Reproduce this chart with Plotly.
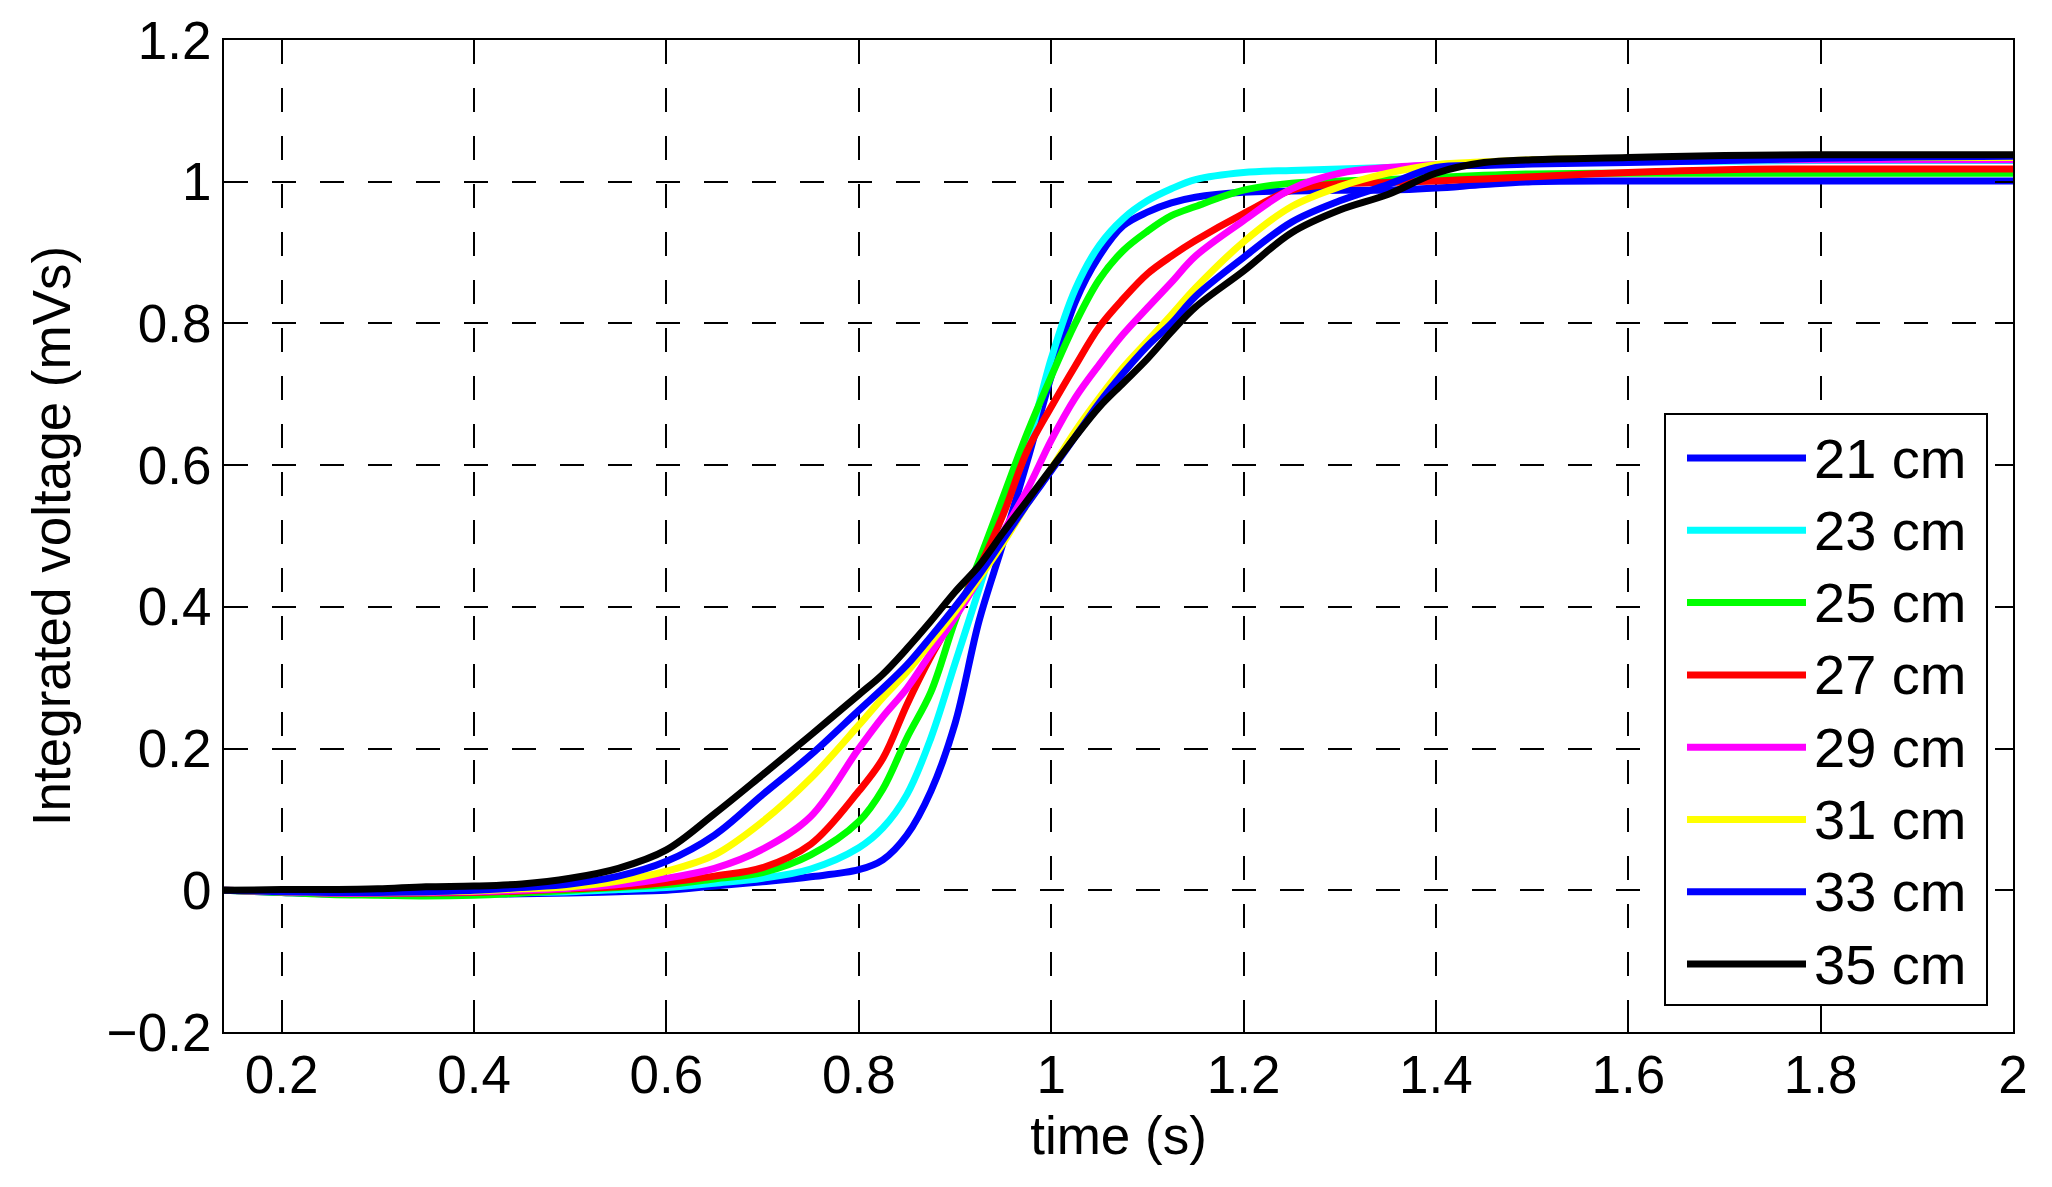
import plotly.graph_objects as go

# ---------------- data ----------------
time_s = [0.14, 0.2, 0.25, 0.3, 0.35, 0.4, 0.45, 0.5, 0.55, 0.6, 0.65, 0.7, 0.75, 0.8,
          0.825, 0.85, 0.875, 0.9, 0.925, 0.95, 0.975, 1.0, 1.025, 1.05, 1.075, 1.1,
          1.125, 1.15, 1.2, 1.25, 1.3, 1.35, 1.4, 1.45, 1.5, 1.6, 1.7, 1.8, 1.9, 2.0]

v21 = [0.000, -0.003, -0.005, -0.005, -0.005, -0.005, -0.005, -0.004, -0.002, 0.000,
       0.006, 0.012, 0.019, 0.029, 0.043, 0.078, 0.140, 0.235, 0.380, 0.490, 0.605,
       0.725, 0.830, 0.895, 0.938, 0.957, 0.970, 0.978, 0.985, 0.987, 0.988, 0.988,
       0.991, 0.996, 1.000, 1.001, 1.001, 1.001, 1.001, 1.001]
v23 = [0.000, -0.002, -0.004, -0.004, -0.004, -0.004, -0.003, -0.002, 0.001, 0.004,
       0.010, 0.017, 0.030, 0.060, 0.088, 0.135, 0.215, 0.320, 0.425, 0.535, 0.625,
       0.750, 0.848, 0.910, 0.948, 0.973, 0.990, 1.003, 1.013, 1.016, 1.018, 1.020,
       1.022, 1.025, 1.027, 1.028, 1.029, 1.030, 1.030, 1.030]
v25 = [0.000, -0.003, -0.006, -0.007, -0.008, -0.007, -0.004, 0.000, 0.004, 0.008,
       0.016, 0.025, 0.050, 0.097, 0.143, 0.215, 0.280, 0.380, 0.465, 0.555, 0.645,
       0.725, 0.800, 0.862, 0.903, 0.930, 0.952, 0.965, 0.988, 0.998, 1.001, 1.003,
       1.006, 1.009, 1.011, 1.012, 1.012, 1.012, 1.012, 1.012]
v27 = [0.000, -0.002, -0.004, -0.004, -0.004, -0.003, -0.001, 0.002, 0.005, 0.011,
       0.020, 0.032, 0.065, 0.140, 0.186, 0.262, 0.330, 0.390, 0.455, 0.530, 0.620,
       0.682, 0.740, 0.795, 0.835, 0.870, 0.895, 0.917, 0.955, 0.988, 0.997, 0.999,
       1.001, 1.004, 1.007, 1.013, 1.017, 1.018, 1.018, 1.018]
v29 = [0.000, -0.002, -0.004, -0.004, -0.003, -0.002, 0.000, 0.003, 0.008, 0.017,
       0.031, 0.058, 0.104, 0.200, 0.245, 0.285, 0.335, 0.385, 0.440, 0.505, 0.565,
       0.635, 0.695, 0.742, 0.785, 0.822, 0.858, 0.895, 0.945, 0.990, 1.012, 1.020,
       1.024, 1.026, 1.028, 1.030, 1.031, 1.031, 1.031, 1.031]
v31 = [0.000, -0.002, -0.003, -0.003, -0.002, -0.001, 0.002, 0.005, 0.013, 0.027,
       0.050, 0.097, 0.158, 0.233, 0.272, 0.308, 0.350, 0.393, 0.440, 0.490, 0.545,
       0.595, 0.648, 0.695, 0.738, 0.775, 0.812, 0.850, 0.915, 0.965, 0.993, 1.012,
       1.024, 1.028, 1.031, 1.033, 1.034, 1.034, 1.034, 1.034]
v33 = [0.000, -0.002, -0.003, -0.003, -0.002, 0.000, 0.004, 0.009, 0.020, 0.041,
       0.078, 0.135, 0.191, 0.254, 0.285, 0.318, 0.358, 0.400, 0.445, 0.495, 0.545,
       0.592, 0.640, 0.688, 0.730, 0.768, 0.800, 0.838, 0.893, 0.943, 0.973, 0.996,
       1.020, 1.023, 1.025, 1.027, 1.030, 1.033, 1.035, 1.036]
v35 = [0.000, 0.001, 0.001, 0.002, 0.005, 0.006, 0.009, 0.017, 0.031, 0.057,
       0.108, 0.163, 0.219, 0.276, 0.305, 0.341, 0.380, 0.421, 0.458, 0.505, 0.550,
       0.595, 0.640, 0.682, 0.716, 0.750, 0.788, 0.823, 0.874, 0.928, 0.960, 0.982,
       1.012, 1.027, 1.031, 1.034, 1.037, 1.038, 1.038, 1.038]

series_names = ["21 cm", "23 cm", "25 cm", "27 cm", "29 cm", "31 cm", "33 cm", "35 cm"]
series_values = [v21, v23, v25, v27, v29, v31, v33, v35]
series_colors = ["#0000FF", "#00FFFF", "#00FF00", "#FF0000",
                 "#FF00FF", "#FFFF00", "#0000FF", "#000000"]

x_ticks = [0.2, 0.4, 0.6, 0.8, 1.0, 1.2, 1.4, 1.6, 1.8, 2.0]
x_ticklabels = ["0.2", "0.4", "0.6", "0.8", "1", "1.2", "1.4", "1.6", "1.8", "2"]
y_ticks = [-0.2, 0.0, 0.2, 0.4, 0.6, 0.8, 1.0, 1.2]
y_ticklabels = ["\u22120.2", "0", "0.2", "0.4", "0.6", "0.8", "1", "1.2"]

x_title = "time (s)"
y_title = "Integrated voltage (mVs)"

# ---------------- figure ----------------
# the page body has an 8 px default margin, so the figure is made 16 px smaller
OFF = 8
W, H = 2052 - 2 * OFF, 1187 - 2 * OFF
# plot area on screen: x 224..2013, y 40..1032
ML, MT = 224 - OFF, 40 - OFF
MR = W - (2013 - OFF)
MB = H - (1032 - OFF)
FONT = "Liberation Sans, Arial, Helvetica, sans-serif"
FS = 53
LFS = 56
LW = 7

fig = go.Figure()
for name, vals, col in zip(series_names, series_values, series_colors):
    fig.add_trace(go.Scatter(x=time_s, y=vals, mode="lines", name=name,
                             line=dict(color=col, width=LW, shape="spline", smoothing=1.0),
                             showlegend=False))

axis_common = dict(
    showline=True, linecolor="black", linewidth=2, mirror="ticks",
    ticks="inside", ticklen=18, tickwidth=2, tickcolor="black",
    showgrid=True, gridcolor="black", gridwidth=1.5, griddash="24px,24px",
    zeroline=False, automargin=False,
    tickfont=dict(family=FONT, size=FS, color="black"),
)

fig.update_layout(
    width=W, height=H,
    margin=dict(l=ML, r=MR, t=MT, b=MB, autoexpand=False),
    paper_bgcolor="white", plot_bgcolor="white",
    font=dict(family=FONT, size=FS, color="black"),
    xaxis=dict(range=[0.14, 2.0], tickvals=x_ticks, ticktext=x_ticklabels,
               ticklabelstandoff=-5,
               title=dict(text=x_title, font=dict(family=FONT, size=FS), standoff=14),
               **axis_common),
    yaxis=dict(range=[-0.2, 1.2], tickvals=y_ticks, ticktext=y_ticklabels,
               title=dict(text=y_title, font=dict(family=FONT, size=FS), standoff=19),
               **axis_common),
    showlegend=False,
)

# ---------------- manual legend (MATLAB style box) ----------------
pw = W - ML - MR
ph = H - MT - MB
def px_x(x):
    return (x - OFF - ML) / pw
def px_y(y):
    return (H - MB - (y - OFF)) / ph

box_l, box_r, box_t, box_b = 1665, 1987, 414, 1005
fig.add_shape(type="rect", xref="paper", yref="paper",
              x0=px_x(box_l), x1=px_x(box_r), y0=px_y(box_b), y1=px_y(box_t),
              line=dict(color="black", width=2), fillcolor="white", layer="above")
row0, step = 458, 72.3
for i, (name, col) in enumerate(zip(series_names, series_colors)):
    yc = row0 + i * step
    fig.add_shape(type="line", xref="paper", yref="paper",
                  x0=px_x(1687), x1=px_x(1806), y0=px_y(yc), y1=px_y(yc),
                  line=dict(color=col, width=LW), layer="above")
    fig.add_annotation(xref="paper", yref="paper", x=px_x(1812), y=px_y(yc),
                       xanchor="left", yanchor="middle", text=name, showarrow=False,
                       font=dict(family=FONT, size=LFS, color="black"))

fig.write_html("out.html")
